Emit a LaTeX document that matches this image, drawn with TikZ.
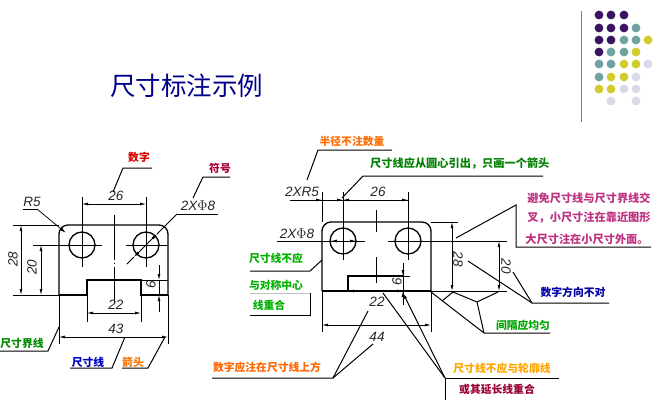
\documentclass[tikz,border=0pt]{standalone}
\usepackage{fontspec}
\setmainfont{Liberation Sans}
\newfontfamily\cjk{Noto Sans CJK SC}
\usetikzlibrary{arrows.meta}
\definecolor{dP}{HTML}{3B1363}
\definecolor{dT}{HTML}{6FA3A3}
\definecolor{dY}{HTML}{D3CB2C}
\definecolor{dL}{HTML}{D9D9E8}
\tikzset{
  thick line/.style={line width=1.3pt,black},
  thin line/.style={line width=0.75pt,black},
  dim/.style={line width=0.75pt,black,{Latex[length=6pt,width=3pt]}-{Latex[length=6pt,width=3pt]}},
  tipend/.style={line width=0.75pt,black,-{Latex[length=6pt,width=3pt]}},
  leader/.style={line width=1pt,black},
  num/.style={font=\itshape\fontsize{13.5}{15}\selectfont,inner sep=0pt,text=black!85},
  lab/.style={font=\cjk\bfseries\fontsize{10.8}{12}\selectfont,inner sep=0pt},
  labwide/.style={font=\cjk\bfseries\fontsize{11.2}{13}\selectfont,inner sep=0pt},
}
\begin{document}
\begin{tikzpicture}[x=1pt,y=-1pt]
\useasboundingbox (0,0) rectangle (667,400);
\fill[white] (0,0) rectangle (667,400);

% decoration
\draw[line width=1pt,gray] (581,11) -- (581,122);
\foreach \x/\y/\c in {599/15/dP,611/15/dP,624/15/dP,
 599/28/dP,611/28/dP,624/28/dP,636/28/dT,
 599/40/dP,611/40/dP,624/40/dT,636/40/dT,648/40/dY,
 599/52/dP,611/52/dT,624/52/dT,636/52/dY,
 599/64/dT,611/64/dT,624/64/dY,636/64/dY,648/64/dL,
 599/77/dT,611/77/dY,624/77/dY,636/77/dL,
 599/89/dY,611/89/dY,624/89/dL,636/89/dL,
 611/101/dL,636/101/dL}
  \fill[\c] (\x,\y) circle[radius=4.4pt];

% title
\node[font=\cjk\fontsize{25.5}{28}\selectfont,text=blue!55!black,inner sep=0pt] (title) at (186.5,86) {尺寸标注示例};

% ---------- left figure ----------
\draw[thick line,rounded corners=9pt] (59,295) -- (59,225) -- (168,225) -- (168,295);
\draw[thick line] (59,295) -- (87,295) -- (87,280) -- (141,280) -- (141,295) -- (168,295);
\draw[thick line] (82,245) circle[radius=13pt];
\draw[thick line] (146,245) circle[radius=13pt];
% centre and extension lines
\draw[thin line] (82,197) -- (82,267);
\draw[thin line] (146,197) -- (146,267);
\draw[thin line] (114,215) -- (114,260);
\draw[thin line] (114,263) -- (114,264);
\draw[thin line] (114,267) -- (114,303);
\draw[thin line] (33,245) -- (102,245);
\draw[thin line] (126,245) -- (168,245);
\draw[thin line] (13,225) -- (59,225);
\draw[thin line] (13,295) -- (59,295);
\draw[thin line] (141,280) -- (168,280);
\draw[thin line] (87,295) -- (87,322);
\draw[thin line] (141,295) -- (141,322);
\draw[thin line] (59,295) -- (59,344);
\draw[thin line] (168,295) -- (168,344);
% dimensions
\draw[dim] (82,204) -- (146,204);
\draw[dim] (21,225) -- (21,295);
\draw[dim] (41,245) -- (41,295);
\draw[tipend] (159,265) -- (159,280);
\draw[tipend] (159,312) -- (159,295);
\draw[thin line] (159,280) -- (159,295);
\draw[dim] (87,313) -- (141,313);
\draw[dim] (59,337) -- (168,337);
\node[num] (l26) at (116,196) {26};
\node[num,rotate=90] (l28) at (13,259) {28};
\node[num,rotate=90] (l20) at (32,267) {20};
\node[num,rotate=90] (l6) at (151,285) {6};
\node[num] (l22) at (116,305) {22};
\node[num] (l43) at (116,329) {43};
\node[num] (lr5) at (32,202) {R5};
\node[num] (lphi) at (198,206) {2X$\Phi$8};
% leaders
\draw[leader] (23,209) -- (37,209);
\draw[tipend] (37,209) -- (66,233);
\draw[leader] (218,214) -- (177,214);
\draw[line width=0.75pt,{Latex[length=6pt,width=3pt]}-{Latex[length=6pt,width=3pt]}] (157,234) -- (134,257);
\draw[thin line] (177,214) -- (157,234);
\draw[thin line] (134,257) -- (127,264);
\node[lab,text=red!85!black] (shuzi) at (139,157) {数字};
\draw[leader] (152,168) -- (123,168) -- (113,192);
\node[lab,text=purple!85!black] (fuhao) at (220,168) {符号};
\draw[leader] (230,177) -- (203,177) -- (193,198);
\node[lab,text=green!55!black] (jiexian) at (22,343) {尺寸界线};
\draw[leader] (0,351) -- (48,351) -- (59,327);
\node[lab,text=blue!75!black] (chicun) at (88,362) {尺寸线};
\draw[leader] (70,368) -- (112,368) -- (125,337);
\node[lab,text=orange!90!red] (jiantou) at (133,362) {箭头};
\draw[leader] (122,368) -- (148,368) -- (165,337);

% ---------- right figure ----------
\draw[thick line,rounded corners=9pt] (322,291) -- (322,222) -- (431,222) -- (431,291);
\draw[thick line] (322,291) -- (431,291);
\draw[thick line] (348,291) -- (348,276) -- (403,276);
\draw[thin line] (403,276) -- (410,276);
\draw[thick line] (343,241) circle[radius=13pt];
\draw[thick line] (408,241) circle[radius=13pt];
% lines
\draw[thin line] (322,192) -- (322,222);
\draw[thin line] (343,192) -- (343,260);
\draw[thin line] (408,192) -- (408,260);
\draw[thin line] (376,210) -- (376,232);
\draw[thin line] (376,257) -- (376,283);
\draw[thin line] (277,241) -- (365,241);
\draw[thin line] (388,241) -- (431,241);
\draw[thin line] (322,291) -- (322,332);
\draw[thin line] (431,291) -- (431,332);
\draw[thin line] (431,222) -- (458,222);
\draw[thin line] (431,241) -- (507,241);
\draw[thin line] (431,291) -- (507,291);
% dimensions
\draw[thin line] (290,200) -- (408,200);
\draw[tipend] (310,200) -- (322,200);
\draw[tipend] (355,200) -- (343,200);
\draw[tipend] (331,200) -- (343,200);
\draw[tipend] (395,200) -- (408,200);
\draw[line width=0.75pt,{Latex[length=6pt,width=3pt]}-{Latex[length=6pt,width=3pt]}] (331,241) -- (356,241);
\draw[thin line] (403,263) -- (403,305);
\draw[tipend] (403,264) -- (403,276);
\draw[tipend] (403,305) -- (403,291);
\draw[tipend] (370,291) -- (403,291);
\draw[tipend] (365,291) -- (348,291);
\draw[dim] (322,325) -- (431,325);
\draw[dim] (452,222) -- (452,291);
\draw[dim] (499,241) -- (499,291);
\node[num] (r2xr5) at (302,192) {2XR5};
\node[num] (r2xphi) at (297,234) {2X$\Phi$8};
\node[num] (r26) at (378,192) {26};
\node[num,rotate=90] (r6) at (397,282) {6};
\node[num] (r22) at (377,302) {22};
\node[num] (r44) at (377,337) {44};
\node[num,rotate=-90] (r28) at (458,259) {28};
\node[num,rotate=-90] (r20) at (506,266) {20};
% labels + leaders
\node[lab,text=orange!85!red] (banjing) at (352,141) {半径不注数量};
\draw[leader] (392,150) -- (318,150) -- (307,180);
\node[labwide,text=green!50!black,anchor=west] (yinchu) at (370,163) {尺寸线应从圆心引出，只画一个箭头};
\draw[leader] (543,176) -- (363,176) -- (342,198);
\node[lab,text=green!70!black] (buying) at (276,258) {尺寸线不应};
\node[lab,text=green!70!black] (duichen) at (276,285) {与对称中心};
\node[lab,text=green!70!black] (chonghe) at (269,305) {线重合};
\draw[leader] (322,260) -- (310,271) -- (250,271);
\draw[line width=0.6pt,black!25] (250,293) -- (310,293);
\draw[leader] (310,293) -- (310,315) -- (250,315);
\node[lab,text=orange!80!red] (shangfang) at (267,367) {数字应注在尺寸线上方};
\draw[leader] (212,378) -- (333,378) -- (368,311);
\draw[leader] (333,378) -- (373,344);
\node[lab,text=orange!70!yellow] (lunkuo) at (502,368) {尺寸线不应与轮廓线};
\node[lab,text=purple!80!black] (yanchang) at (497,389) {或其延长线重合};
\draw[leader] (559,378) -- (445,378) -- (445,400);
\draw[leader] (445,378) -- (383,293);
\draw[line width=1pt,-{Latex[length=6pt,width=3pt]}] (445,378) -- (403,293);
\node[lab,text=blue!65!black] (fangxiang) at (573,292) {数字方向不对};
\draw[leader] (609,303) -- (532,303) -- (468,261);
\draw[leader] (532,303) -- (513,272);
\node[lab,text=green!65!black] (jiange) at (523,325) {间隔应均匀};
\draw[leader] (550,333) -- (484,333) -- (431,292);
\draw[leader] (484,333) -- (477,302) -- (453,292) -- (442,301);
\draw[leader] (477,302) -- (498,292);
\node[labwide,text=magenta!75!black] (jiaocha) at (589,198) {避免尺寸线与尺寸界线交};
\node[labwide,text=magenta!75!black] (kaojin) at (589,218) {叉，小尺寸注在靠近图形};
\node[labwide,text=magenta!75!black] (waimian) at (587,239) {大尺寸注在小尺寸外面。};
\draw[leader] (456,238) -- (516,205) -- (516,247) -- (651,247);
\end{tikzpicture}
\end{document}
